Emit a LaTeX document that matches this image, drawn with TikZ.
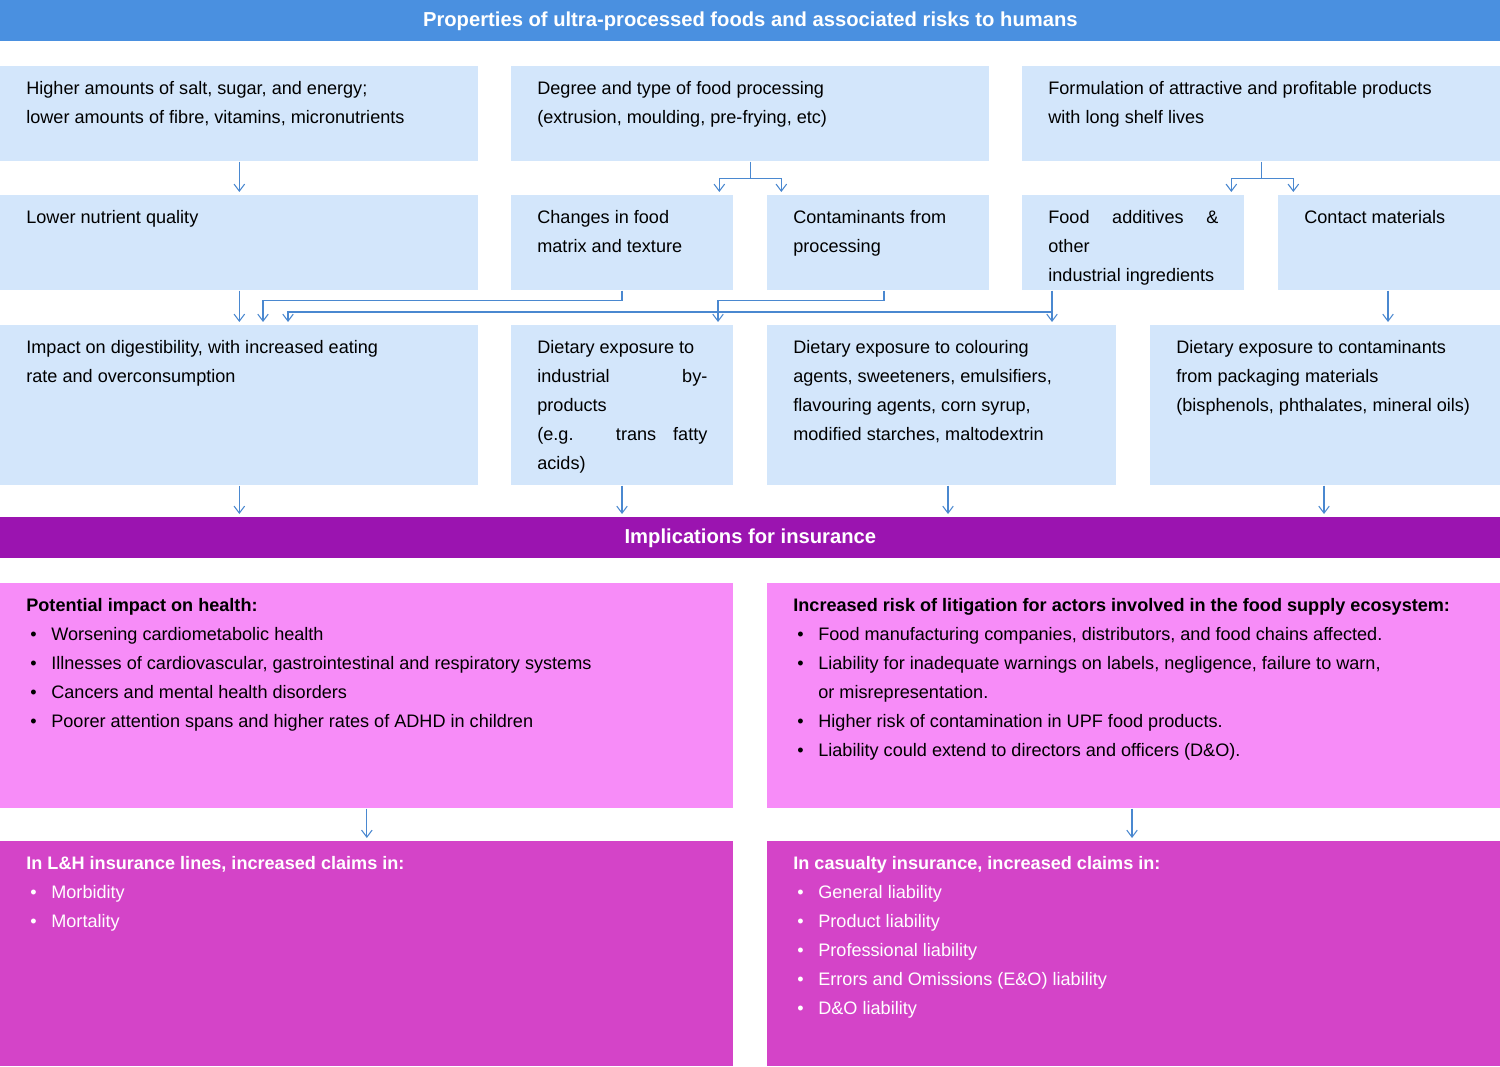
\documentclass[tikz,border=0pt]{standalone}
\usepackage{fontspec}
\setmainfont{Liberation Sans}
\usetikzlibrary{arrows.meta,positioning}
\definecolor{topblue}{HTML}{4A90E0}
\definecolor{lightblue}{HTML}{D3E6FB}
\definecolor{arrblue}{HTML}{4A88D0}
\definecolor{violet}{HTML}{9B14B0}
\definecolor{lightpink}{HTML}{F78CF8}
\definecolor{magentabox}{HTML}{D444C8}
\newlength\pxu \setlength\pxu{0.02cm}
% box text, top aligned
\newcommand\btext[3]{\parbox[c][#2\pxu][t]{#1\pxu}{\vspace*{15\pxu}#3}}
\newcommand\itm[1]{\par\hangindent=25\pxu\hangafter=1\noindent\makebox[25\pxu][l]{\hspace{4\pxu}\textbullet}#1}
\begin{document}
\begin{tikzpicture}[x=0.02cm,y=-0.02cm,
	box/.style={fill=lightblue,inner xsep=26\pxu,inner ysep=0pt,anchor=north west,font=\fontsize{10.3}{16.5}\selectfont,align=left},
	pbox/.style={box,fill=lightpink},
	mbox/.style={box,fill=magentabox,text=white},
	bar/.style={anchor=north west,inner sep=0pt,minimum width=1500\pxu,minimum height=41\pxu,text=white,font=\fontsize{11.5}{14}\bfseries},
	arr/.style={draw=arrblue,-{Straight Barb[length=4pt,width=6pt]},semithick,shorten >=3\pxu}]
\useasboundingbox (0,0) rectangle (1500,1067);
\fill[white] (0,0) rectangle (1500,1067);
% header
\node[bar,fill=topblue] (title) at (0,0) {Properties of ultra-processed foods and associated risks to humans};
% first row
\node[box] (salt) at (0,66) {\btext{426}{95}{Higher amounts of salt, sugar, and energy;\\lower amounts of fibre, vitamins, micronutrients}};
\node[box] (degree) at (511,66) {\btext{426}{95}{Degree and type of food processing\\(extrusion, moulding, pre-frying, etc)}};
\node[box] (formul) at (1022,66) {\btext{426}{95}{Formulation of attractive and profitable products\\with long shelf lives}};
% second row
\node[box] (lower) at (0,195) {\btext{426}{95}{Lower nutrient quality}};
\node[box] (matrix) at (511,195) {\btext{170}{95}{Changes in food\\matrix and texture}};
\node[box] (contam) at (767,195) {\btext{170}{95}{Contaminants from\\processing}};
\node[box] (additive) at (1022,195) {\btext{170}{95}{Food additives \& other\\industrial ingredients}};
\node[box] (contact) at (1278,195) {\btext{170}{95}{Contact materials}};
% third row
\node[box] (digest) at (0,325) {\btext{426}{160}{Impact on digestibility, with increased eating\\rate and overconsumption}};
\node[box] (byprod) at (511,325) {\btext{170}{160}{Dietary exposure to\\industrial by-products\\(e.g. trans fatty acids)}};
\node[box] (colour) at (767,325) {\btext{297}{160}{Dietary exposure to colouring\\agents, sweeteners, emulsifiers,\\flavouring agents, corn syrup,\\modified starches, maltodextrin}};
\node[box] (packag) at (1150,325) {\btext{298}{160}{Dietary exposure to contaminants\\from packaging materials\\(bisphenols, phthalates, mineral oils)}};
% insurance
\node[bar,fill=violet] (insur) at (0,517) {Implications for insurance};
\node[pbox] (health) at (0,583) {\btext{681}{225}{\textbf{Potential impact on health:}
	\itm{Worsening cardiometabolic health}
	\itm{Illnesses of cardiovascular, gastrointestinal and respiratory systems}
	\itm{Cancers and mental health disorders}
	\itm{Poorer attention spans and higher rates of ADHD in children}}};
\node[pbox] (litig) at (767,583) {\btext{700}{225}{\textbf{Increased risk of litigation for actors involved in the food supply ecosystem:}
	\itm{Food manufacturing companies, distributors, and food chains affected.}
	\itm{Liability for inadequate warnings on labels, negligence, failure to warn,\\or misrepresentation.}
	\itm{Higher risk of contamination in UPF food products.}
	\itm{Liability could extend to directors and officers (D\&O).}}};
\node[mbox] (lh) at (0,841) {\btext{681}{225}{\textbf{In L\&H insurance lines, increased claims in:}
	\itm{Morbidity}
	\itm{Mortality}}};
\node[mbox] (casual) at (767,841) {\btext{681}{225}{\textbf{In casualty insurance, increased claims in:}
	\itm{General liability}
	\itm{Product liability}
	\itm{Professional liability}
	\itm{Errors and Omissions (E\&O) liability}
	\itm{D\&O liability}}};
% connectors
\draw[arr] (salt.south -| lower.north) -- (lower.north);
\coordinate (split1) at ([yshift=-17\pxu]degree.south);
\coordinate (split2) at ([yshift=-17\pxu]formul.south);
\draw[arrblue,semithick] (degree.south) -- (split1);
\draw[arr] (split1) -| ([xshift=-31\pxu]degree.south |- matrix.north);
\draw[arr] (split1) -| ([xshift=31\pxu]degree.south |- contam.north);
\draw[arrblue,semithick] (formul.south) -- (split2);
\draw[arr] (split2) -| ([xshift=-30\pxu]formul.south |- additive.north);
\draw[arr] (split2) -| ([xshift=32\pxu]formul.south |- contact.north);
\draw[arr] (lower.south) -- (lower.south |- digest.north);
\draw[arr] ([xshift=111\pxu]matrix.south west) |- ++(0,10) -| ([xshift=263\pxu]digest.north west);
\draw[arr] ([xshift=117\pxu]contam.south west) |- ++(0,10) -| ([xshift=207\pxu]byprod.north west);
\draw[arr] ([xshift=30\pxu]additive.south west) -- ([xshift=285\pxu]colour.north west);
\draw[arr] ([xshift=30\pxu]additive.south west |- 0,312) -| ([xshift=288\pxu]digest.north west);
\draw[arr] ([xshift=110\pxu]contact.south west) -- ([xshift=238\pxu]packag.north west);
\draw[arr] (digest.south) -- (digest.south |- insur.north);
\draw[arr] ([xshift=111\pxu]byprod.south west) -- ([xshift=111\pxu]byprod.south west |- insur.north);
\draw[arr] ([xshift=181\pxu]colour.south west) -- ([xshift=181\pxu]colour.south west |- insur.north);
\draw[arr] ([xshift=174\pxu]packag.south west) -- ([xshift=174\pxu]packag.south west |- insur.north);
\draw[arr] (health.south) -- (lh.north);
\draw[arr] ([xshift=365\pxu]litig.south west) -- ([xshift=365\pxu]litig.south west |- casual.north);
\end{tikzpicture}
\end{document}
